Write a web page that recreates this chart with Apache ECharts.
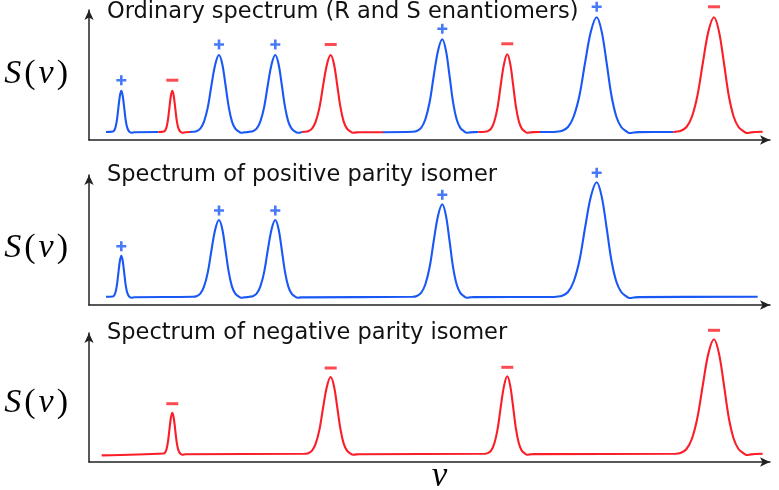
<!DOCTYPE html>
<html><head><meta charset="utf-8">
<script src="https://cdn.jsdelivr.net/npm/echarts@6/dist/echarts.min.js"></script>
<style>html,body{margin:0;padding:0;background:#fff}#c{width:779px;height:490px}</style>
</head><body><div id="c"></div>
<script>
// ---- data: peak profiles [nu, S] (arbitrary units) ----
const peak1 = [[23.9,8.5],[25.3,9.8],[26.7,13.6],[28.1,21.2],[29.5,33.2],[30.9,44.3],[32.3,49.3],[33.7,44.3],[35.1,33.2],[36.5,21.2],[37.9,13.6],[39.3,9.8],[40.7,8.0],[42.6,7.3],[45.5,7.8]];
const peak2 = [[74.9,8.5],[76.3,9.8],[77.7,13.6],[79.1,21.2],[80.5,33.2],[81.9,44.3],[83.3,49.3],[84.7,44.3],[86.1,33.2],[87.5,21.2],[88.9,13.6],[90.3,9.8],[91.7,8.0],[93.6,7.3],[96.5,7.8]];
const peak3 = [[103.8,8.2],[107.5,8.8],[111.3,11.4],[115,18.4],[118.8,32.6],[122.5,55],[126.3,75.8],[130,85],[133.3,75.8],[136.5,55],[139.8,32.6],[143,18.4],[146.3,11.4],[149.5,8.6],[152.3,7.2],[155.5,7.6],[158.5,7.9]];
const peak4 = [[160.1,8.2],[163.8,8.8],[167.6,11.4],[171.3,18.4],[175.1,32.6],[178.8,55],[182.6,75.8],[186.3,85],[189.6,75.8],[192.8,55],[196.1,32.6],[199.3,18.4],[202.6,11.4],[205.8,8.6],[208.6,7.2],[211.8,7.6]];
const peak5 = [[215.5,8.2],[219.2,8.8],[223,11.4],[226.7,18.4],[230.5,32.6],[234.2,55],[238,75.8],[241.7,85],[245,75.8],[248.2,55],[251.5,32.6],[254.7,18.4],[258,11.4],[261.2,8.6],[264,7.2],[267.2,7.6],[270.5,7.8]];
const peak6 = [[323.6,8.2],[327.8,9.0],[332.1,12.1],[336.3,20.5],[340.6,37.7],[344.8,64.5],[349.1,89.6],[353.3,100.7],[356.9,89.6],[360.5,64.5],[364.1,37.7],[367.7,20.5],[371.3,12.1],[374.9,8.8],[377.8,7.2],[381.2,7.6],[384.5,7.9]];
const peak7 = [[395.6,8.2],[398.8,8.9],[402.1,11.4],[405.3,18.5],[408.6,32.9],[411.8,55.4],[415.1,76.4],[418.3,85.7],[421.2,76.4],[424.1,55.4],[427,32.9],[429.9,18.5],[432.8,11.4],[435.7,8.7],[438.3,7.2],[441.5,7.6],[444.8,7.9]];
const peak8 = [[461.7,8.0],[467.5,8.3],[473.2,9.3],[479,13],[484.7,23.5],[490.5,44.7],[496.2,78],[502,108.9],[507.7,122.7],[512.6,108.9],[517.5,78],[522.4,44.7],[527.3,23.5],[532.2,13],[537.1,8.8],[540.7,7.0],[545,7.5],[550,7.9]];
const peak9 = [[586.5,8.3],[592,9.3],[597.5,13],[603,23.5],[608.5,44.7],[614,78],[619.5,108.9],[625,122.7],[629.9,108.9],[634.8,78],[639.7,44.7],[644.6,23.5],[649.5,13],[654.4,8.8],[657.8,7.0],[662,7.6],[666,8.0]];

// baseline joints where the ordinary spectrum changes colour
const ordinaryEdges = [[17,8],[69.3,8],[101,8],[213,8],[294,7.8],[389.3,8],[451,8],[584.3,8],[673.7,8.2]];
const positiveEdges = [[17,8.3],[668.7,8.3]];
const negativeEdges = [[12.7,6.6],[673.7,8.2]];

const positivePeaks = [peak1, peak3, peak4, peak6, peak8];
const negativePeaks = [peak2, peak5, peak7, peak9];
// peaks between successive ordinary-spectrum joints, with their parity
const ordinarySegments = [[[peak1],'+'],[[peak2],'-'],[[peak3,peak4],'+'],[[peak5],'-'],[[peak6],'+'],[[peak7],'-'],[[peak8],'+'],[[peak9],'-']];

const titles = ['Ordinary spectrum (R and S enantiomers)', 'Spectrum of positive parity isomer', 'Spectrum of negative parity isomer'];
const xLabel = 'ν';

// ---- chart ----
const BLUE = '#1a58f5', RED = '#fa1e28', AXIS = '#222';
const grids = [
  {left: 89, width: 681, top: 10, height: 130, outerBoundsMode: 'none', containLabel: false},
  {left: 89, width: 681, top: 175, height: 130, outerBoundsMode: 'none', containLabel: false},
  {left: 89, width: 681, top: 333, height: 129, outerBoundsMode: 'none', containLabel: false}
];
const yMax = [130, 130, 129];
const nameShift = [-1, 8.5, 6];
const markLift = [-10.5, -9.5, -9];

const axisLine = {show: true, symbol: ['none', 'arrow'], symbolSize: [7, 10], lineStyle: {color: AXIS, width: 1.5}};
const serifI = {fontFamily: 'Liberation Serif', fontStyle: 'italic', fontSize: 34, color: '#000', padding: [0, 2, 0, 1]};
const serifR = {fontFamily: 'Liberation Serif', fontSize: 34, color: '#000', padding: [0, 2, 0, 1]};
const xAxes = grids.map((g, i) => ({
  gridIndex: i, type: 'value', min: 0, max: 681,
  axisLine, axisTick: {show: false}, axisLabel: {show: false}, splitLine: {show: false},
  name: i === 2 ? xLabel : '', nameLocation: 'middle', nameGap: -3,
  nameTextStyle: {fontFamily: 'Liberation Serif', fontStyle: 'italic', fontSize: 35, color: '#000', padding: [0, 0, 0, 20]}
}));
const yAxes = grids.map((g, i) => ({
  gridIndex: i, type: 'value', min: 0, max: yMax[i],
  axisLine, axisTick: {show: false}, axisLabel: {show: false}, splitLine: {show: false},
  name: '{i|S}{r|(}{i|ν}{r|)}', nameLocation: 'middle', nameRotate: 0, nameGap: 19,
  nameTextStyle: {
    padding: nameShift[i] > 0 ? [2 * nameShift[i], 0, 0, 0] : [0, 0, -2 * nameShift[i], 0],
    rich: {i: serifI, r: serifR}
  }
}));

const series = [];
function lineSeries(data, color, idx) {
  return {type: 'line', xAxisIndex: idx, yAxisIndex: idx, data, color, smooth: 0.35,
    symbol: 'none', lineStyle: {width: 2.1, color}, silent: true, clip: false, z: 3};
}
function topOf(p) { return p.reduce((a, b) => (b[1] > a[1] ? b : a)); }
const PLUS = 'path://M3.7,0H6.3V3.7H10V6.3H6.3V10H3.7V6.3H0V3.7H3.7Z';
function marks(peaks, sign, idx) {
  const plus = sign === '+';
  return {type: 'scatter', xAxisIndex: idx, yAxisIndex: idx, silent: true, z: 4,
    data: peaks.map(topOf),
    symbol: plus ? PLUS : 'rect', symbolSize: plus ? 10 : [12, 3],
    symbolOffset: [0, markLift[idx]],
    itemStyle: {color: plus ? BLUE : RED}};
}

// panel 1: ordinary spectrum, coloured by parity
ordinarySegments.forEach(([peaks, sign], k) => {
  const data = [ordinaryEdges[k]].concat(...peaks, [ordinaryEdges[k + 1]]);
  series.push(lineSeries(data, sign === '+' ? BLUE : RED, 0));
});
series.push(marks(positivePeaks, '+', 0));
series.push(marks(negativePeaks, '-', 0));
// panel 2
series.push(lineSeries([positiveEdges[0]].concat(...positivePeaks, [positiveEdges[1]]), BLUE, 1));
series.push(marks(positivePeaks, '+', 1));
// panel 3
series.push(lineSeries([negativeEdges[0]].concat(...negativePeaks, [negativeEdges[1]]), RED, 2));
series.push(marks(negativePeaks, '-', 2));

const titleTops = [1.5, 164, 322.5];
const chart = echarts.init(document.getElementById('c'));
chart.setOption({
  animation: false,
  backgroundColor: '#fff',
  title: titles.map((t, i) => ({text: t, left: 107, top: titleTops[i], padding: 0,
    textStyle: {fontFamily: 'DejaVu Sans', fontSize: 22.5, fontWeight: 'normal', color: '#111', lineHeight: 22}})),
  grid: grids,
  xAxis: xAxes,
  yAxis: yAxes,
  series
});
</script></body></html>
